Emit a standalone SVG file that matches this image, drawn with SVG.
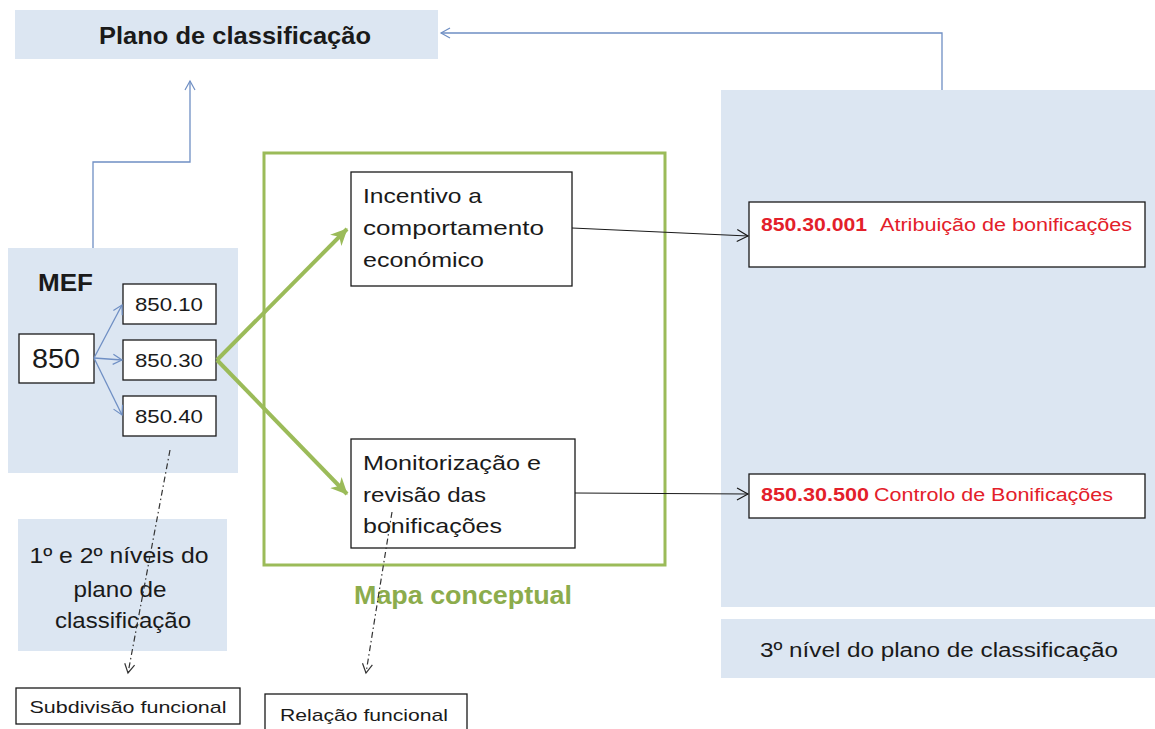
<svg xmlns="http://www.w3.org/2000/svg" width="1155" height="729" viewBox="0 0 1155 729">
<style>
.panel{fill:#dce6f2;stroke:none}
.box{fill:#ffffff;stroke:#1a1a1a;stroke-width:1.3}
.t{font-family:"Liberation Sans",Arial,sans-serif;fill:#1a1a1a}
.b{font-weight:bold}
.red{fill:#e3202a}
.blue{fill:none;stroke:#6f8fc4;stroke-width:1.3}
.blk{fill:none;stroke:#1a1a1a;stroke-width:1}
.dash{fill:none;stroke:#333;stroke-width:1.2;stroke-dasharray:6 3 1.5 3}
.green{fill:none;stroke:#9bbb59;stroke-width:4}
</style>
<defs>
<marker id="aBlue" markerWidth="12" markerHeight="12" refX="10" refY="6" orient="auto" markerUnits="userSpaceOnUse"><path d="M1,1 L10,6 L1,11" fill="none" stroke="#6f8fc4" stroke-width="1.2"/></marker>
<marker id="aBlk" markerWidth="14" markerHeight="14" refX="12" refY="7" orient="auto" markerUnits="userSpaceOnUse"><path d="M1,1 L12,7 L1,13" fill="none" stroke="#1a1a1a" stroke-width="1.2"/></marker>
<marker id="aDash" markerWidth="12" markerHeight="12" refX="10" refY="6" orient="auto" markerUnits="userSpaceOnUse"><path d="M1,1 L10,6 L1,11" fill="none" stroke="#333" stroke-width="1.2"/></marker>
<marker id="aGreen" markerWidth="20" markerHeight="20" refX="16" refY="10" orient="auto" markerUnits="userSpaceOnUse"><path d="M0,2 L17,10 L0,18 L5,10 Z" fill="#9bbb59"/></marker>
</defs>

<g id="plano">
<rect class="panel" x="15" y="10" width="423" height="49"/>
<text class="t b" x="235" y="44" font-size="24" text-anchor="middle" textLength="272" lengthAdjust="spacingAndGlyphs">Plano de classificação</text>
</g>

<g id="mef">
<rect class="panel" x="8" y="248" width="230" height="225"/>
<text class="t b" x="38" y="291" font-size="24" textLength="55" lengthAdjust="spacingAndGlyphs">MEF</text>
</g>

<g id="n850">
<rect class="box" x="19" y="334" width="75" height="49"/>
<text class="t" x="56" y="368" font-size="27" text-anchor="middle" textLength="48" lengthAdjust="spacingAndGlyphs">850</text>
</g>
<g id="n850-10">
<rect class="box" x="123" y="284" width="93" height="40"/>
<text class="t" x="169" y="311" font-size="19" text-anchor="middle" textLength="68" lengthAdjust="spacingAndGlyphs">850.10</text>
</g>
<g id="n850-30">
<rect class="box" x="123" y="340" width="93" height="40"/>
<text class="t" x="169" y="367" font-size="19" text-anchor="middle" textLength="68" lengthAdjust="spacingAndGlyphs">850.30</text>
</g>
<g id="n850-40">
<rect class="box" x="123" y="396" width="93" height="40"/>
<text class="t" x="169" y="423" font-size="19" text-anchor="middle" textLength="68" lengthAdjust="spacingAndGlyphs">850.40</text>
</g>

<g id="niveis12">
<rect class="panel" x="18" y="519" width="209" height="132"/>
<text class="t" font-size="22" text-anchor="middle">
<tspan x="122" y="563" textLength="179" lengthAdjust="spacingAndGlyphs">1º e 2º níveis do</tspan>
<tspan x="123" y="597" textLength="93" lengthAdjust="spacingAndGlyphs">plano de</tspan>
<tspan x="123" y="628" textLength="136" lengthAdjust="spacingAndGlyphs">classificação</tspan>
</text>
</g>

<g id="mapa">
<rect x="264" y="153" width="401" height="412" fill="none" stroke="#9bbb59" stroke-width="3"/>
<text class="t b" x="463" y="604" font-size="25" style="fill:#8cac4c" text-anchor="middle" textLength="218" lengthAdjust="spacingAndGlyphs">Mapa conceptual</text>
</g>

<g id="incentivo">
<rect class="box" x="351" y="172" width="221" height="114"/>
<text class="t" font-size="21">
<tspan x="363" y="203" textLength="119" lengthAdjust="spacingAndGlyphs">Incentivo a</tspan>
<tspan x="363" y="235" textLength="181" lengthAdjust="spacingAndGlyphs">comportamento</tspan>
<tspan x="363" y="267" textLength="121" lengthAdjust="spacingAndGlyphs">económico</tspan>
</text>
</g>

<g id="monitorizacao">
<rect class="box" x="351" y="439" width="224" height="109"/>
<text class="t" font-size="21">
<tspan x="363" y="470" textLength="178" lengthAdjust="spacingAndGlyphs">Monitorização e</tspan>
<tspan x="363" y="502" textLength="123" lengthAdjust="spacingAndGlyphs">revisão das</tspan>
<tspan x="363" y="533" textLength="139" lengthAdjust="spacingAndGlyphs">bonificações</tspan>
</text>
</g>

<g id="nivel3">
<rect class="panel" x="721" y="90" width="434" height="517"/>
</g>
<g id="nivel3-label">
<rect class="panel" x="721" y="619" width="434" height="59"/>
<text class="t" x="939" y="657" font-size="20" text-anchor="middle" textLength="358" lengthAdjust="spacingAndGlyphs">3º nível do plano de classificação</text>
</g>

<g id="c001">
<rect class="box" x="749" y="202" width="396" height="65"/>
<text class="t red" x="761" y="231" font-size="18"><tspan class="b" textLength="106" lengthAdjust="spacingAndGlyphs">850.30.001</tspan><tspan x="880" textLength="252" lengthAdjust="spacingAndGlyphs">Atribuição de bonificações</tspan></text>
</g>

<g id="c500">
<rect class="box" x="749" y="474" width="396" height="44"/>
<text class="t red" x="761" y="501" font-size="18"><tspan class="b" textLength="108" lengthAdjust="spacingAndGlyphs">850.30.500</tspan><tspan x="874" textLength="239" lengthAdjust="spacingAndGlyphs">Controlo de Bonificações</tspan></text>
</g>

<g id="subdivisao">
<rect class="box" x="16" y="688" width="224" height="36"/>
<text class="t" x="128" y="713" font-size="17" text-anchor="middle" textLength="197" lengthAdjust="spacingAndGlyphs">Subdivisão funcional</text>
</g>

<g id="relacao">
<rect class="box" x="265" y="694" width="202" height="40"/>
<text class="t" x="364" y="721" font-size="17" text-anchor="middle" textLength="168" lengthAdjust="spacingAndGlyphs">Relação funcional</text>
</g>

<g id="connectors">
<path class="blue" d="M942,90 L942,33 L441,33" marker-end="url(#aBlue)"/>
<path class="blue" d="M93,248 L93,162 L190,162 L190,81" marker-end="url(#aBlue)"/>
<path class="blue" d="M94,358 L122,305" marker-end="url(#aBlue)"/>
<path class="blue" d="M94,358 L122,360" marker-end="url(#aBlue)"/>
<path class="blue" d="M94,358 L122,415" marker-end="url(#aBlue)"/>
<path class="green" d="M217,360 L347,229" marker-end="url(#aGreen)"/>
<path class="green" d="M217,360 L347,494" marker-end="url(#aGreen)"/>
<path class="blk" d="M572,228 L748,236" marker-end="url(#aBlk)"/>
<path class="blk" d="M575,493 L748,494" marker-end="url(#aBlk)"/>
<path class="dash" d="M170,450 L128,673" marker-end="url(#aDash)"/>
<path class="dash" d="M392,512 L366,673" marker-end="url(#aDash)"/>
</g>
</svg>
